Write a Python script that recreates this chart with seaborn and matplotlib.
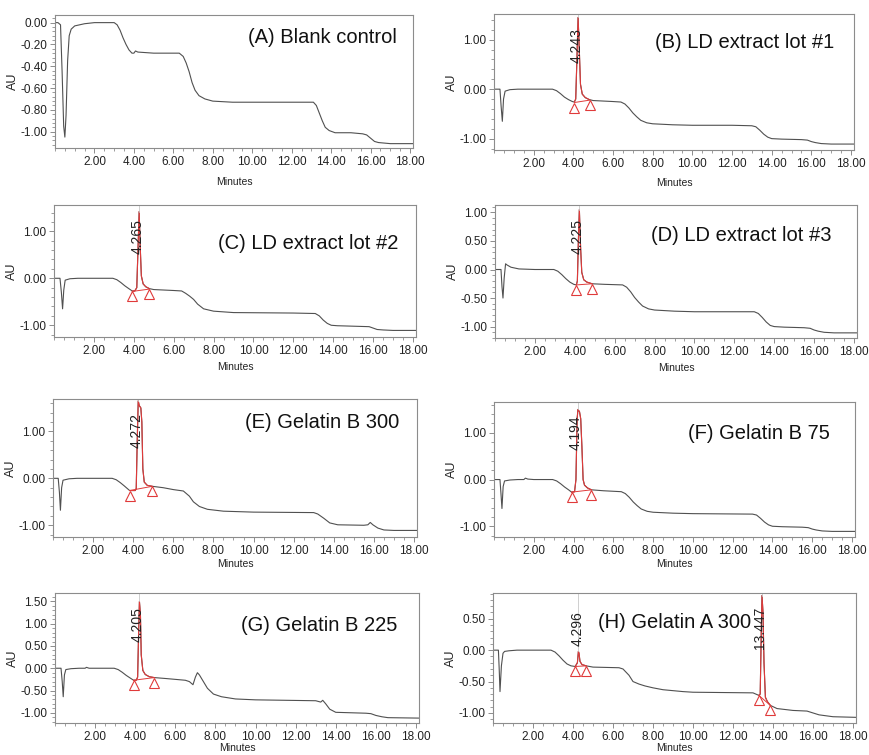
import numpy as np
import pandas as pd
import matplotlib
matplotlib.use("Agg")
import matplotlib.pyplot as plt
import matplotlib.transforms as mtransforms
from matplotlib.ticker import FormatStrFormatter, AutoMinorLocator
import seaborn as sns

sns.set_theme(style="white")
plt.rcParams['font.family'] = ['Liberation Sans', 'DejaVu Sans']
plt.rcParams['axes.unicode_minus'] = False

# ---------------- data (minutes, AU) ----------------
A_t = [0.0, 0.15, 0.28, 0.36, 0.44, 0.50, 0.56, 0.64, 0.72, 0.82, 1.0, 1.5, 2.0, 3.0, 3.15, 3.3, 3.45, 3.6, 3.75, 3.9, 4.0, 4.08, 4.2, 5.0, 6.3, 6.5, 6.65, 6.8, 6.95, 7.1, 7.3, 7.6, 8.0, 9.0, 11.0, 13.1, 13.25, 13.4, 13.55, 13.7, 13.9, 14.2, 15.0, 15.6, 15.8, 16.0, 16.2, 16.4, 17.0, 18.15]
A_y = [0.0, 0.0, -0.02, -0.45, -0.95, -1.05, -0.85, -0.35, -0.12, -0.06, -0.03, -0.01, 0.0, 0.0, -0.02, -0.07, -0.14, -0.2, -0.25, -0.28, -0.28, -0.26, -0.27, -0.28, -0.28, -0.31, -0.37, -0.45, -0.55, -0.62, -0.67, -0.7, -0.72, -0.73, -0.73, -0.73, -0.76, -0.83, -0.9, -0.96, -0.99, -1.01, -1.01, -1.02, -1.03, -1.06, -1.09, -1.10, -1.11, -1.11]

B_t = [0.0, 0.3, 0.36, 0.42, 0.48, 0.56, 0.8, 1.2, 2.0, 2.95, 3.15, 3.35, 3.55, 3.75, 3.95, 4.05, 4.12, 4.18, 4.24, 4.30, 4.36, 4.45, 4.6, 4.8, 5.0, 5.5, 6.0, 6.4, 6.6, 6.8, 7.0, 7.2, 7.4, 7.7, 8.0, 9.0, 10.0, 12.0, 13.0, 13.2, 13.4, 13.6, 13.8, 14.0, 14.5, 15.5, 15.8, 16.0, 16.2, 16.5, 17.0, 18.15]
B_y = [0.0, 0.0, -0.35, -0.65, -0.2, -0.04, -0.01, 0.0, 0.0, 0.0, -0.03, -0.09, -0.16, -0.21, -0.25, -0.26, -0.2, 0.6, 1.45, 0.8, 0.1, -0.1, -0.17, -0.21, -0.23, -0.24, -0.25, -0.26, -0.3, -0.38, -0.48, -0.56, -0.63, -0.68, -0.7, -0.72, -0.73, -0.73, -0.74, -0.76, -0.83, -0.91, -0.97, -1.0, -1.01, -1.02, -1.03, -1.06, -1.08, -1.1, -1.11, -1.11]

C_t = [0.0, 0.3, 0.37, 0.43, 0.49, 0.56, 0.8, 1.2, 2.0, 2.95, 3.15, 3.35, 3.55, 3.75, 3.92, 4.05, 4.15, 4.21, 4.27, 4.32, 4.38, 4.47, 4.6, 4.78, 5.0, 6.0, 6.4, 6.6, 6.8, 7.0, 7.2, 7.5, 8.0, 9.0, 12.0, 13.1, 13.3, 13.5, 13.7, 13.9, 14.2, 15.0, 15.8, 16.0, 16.2, 16.5, 17.0, 18.15]
C_y = [0.0, 0.0, -0.3, -0.65, -0.25, -0.04, -0.01, 0.0, 0.0, 0.0, -0.03, -0.09, -0.16, -0.22, -0.27, -0.27, -0.2, 0.6, 1.42, 0.7, 0.05, -0.12, -0.18, -0.22, -0.24, -0.26, -0.27, -0.32, -0.38, -0.45, -0.55, -0.65, -0.7, -0.73, -0.74, -0.75, -0.8, -0.89, -0.96, -1.0, -1.01, -1.02, -1.03, -1.06, -1.09, -1.1, -1.11, -1.11]

D_t = [0.0, 0.3, 0.35, 0.40, 0.46, 0.53, 0.6, 0.8, 1.2, 2.0, 2.95, 3.15, 3.35, 3.55, 3.75, 3.95, 4.08, 4.13, 4.18, 4.23, 4.29, 4.35, 4.45, 4.6, 4.87, 5.5, 6.4, 6.6, 6.8, 7.0, 7.2, 7.4, 7.7, 8.0, 9.0, 10.0, 13.0, 13.2, 13.4, 13.6, 13.8, 14.0, 14.5, 15.5, 15.8, 16.0, 16.2, 16.5, 17.0, 18.15]
D_y = [0.0, 0.0, -0.3, -0.5, -0.15, 0.1, 0.08, 0.04, 0.01, 0.0, 0.0, -0.03, -0.09, -0.16, -0.22, -0.26, -0.27, -0.2, 0.5, 1.05, 0.4, -0.05, -0.18, -0.22, -0.25, -0.26, -0.27, -0.31, -0.39, -0.49, -0.57, -0.64, -0.69, -0.71, -0.73, -0.74, -0.74, -0.77, -0.84, -0.92, -0.98, -1.0, -1.01, -1.02, -1.03, -1.06, -1.08, -1.1, -1.11, -1.11]

E_t = [0.0, 0.26, 0.32, 0.37, 0.43, 0.5, 0.8, 1.2, 2.0, 2.95, 3.15, 3.35, 3.55, 3.82, 4.1, 4.15, 4.2, 4.25, 4.3, 4.38, 4.43, 4.48, 4.55, 4.7, 4.95, 5.5, 6.0, 6.5, 6.8, 7.0, 7.3, 7.7, 8.5, 10.0, 13.0, 13.2, 13.5, 13.8, 14.2, 15.5, 15.7, 15.82, 15.95, 16.2, 16.5, 17.0, 18.15]
E_y = [0.0, 0.0, -0.3, -0.68, -0.2, -0.04, -0.01, 0.0, 0.0, 0.0, -0.03, -0.09, -0.16, -0.26, -0.26, -0.22, 0.8, 1.65, 1.55, 1.5, 1.2, 0.2, -0.08, -0.15, -0.17, -0.2, -0.24, -0.27, -0.38, -0.5, -0.6, -0.66, -0.7, -0.72, -0.73, -0.76, -0.85, -0.95, -0.99, -1.0, -0.99, -0.94, -0.99, -1.06, -1.1, -1.11, -1.11]

F_t = [0.0, 0.3, 0.35, 0.40, 0.46, 0.53, 0.8, 1.2, 1.5, 1.58, 1.7, 2.0, 2.95, 3.15, 3.35, 3.55, 3.75, 3.9, 4.05, 4.12, 4.18, 4.22, 4.3, 4.36, 4.42, 4.48, 4.55, 4.7, 4.9, 5.5, 6.4, 6.6, 6.8, 7.0, 7.2, 7.4, 7.7, 8.0, 9.0, 10.0, 13.0, 13.2, 13.4, 13.6, 13.8, 14.0, 14.5, 15.5, 15.8, 16.0, 16.2, 16.5, 17.0, 18.15]
F_y = [0.0, 0.0, -0.3, -0.62, -0.15, -0.03, -0.01, 0.0, 0.0, 0.03, 0.01, 0.0, 0.0, -0.03, -0.09, -0.16, -0.22, -0.27, -0.26, 0.0, 1.3, 1.5, 1.45, 1.3, 0.7, 0.0, -0.12, -0.18, -0.22, -0.24, -0.26, -0.3, -0.38, -0.48, -0.56, -0.63, -0.68, -0.7, -0.72, -0.73, -0.74, -0.76, -0.83, -0.91, -0.97, -1.0, -1.01, -1.02, -1.03, -1.06, -1.08, -1.1, -1.11, -1.11]

G_t = [0.0, 0.3, 0.36, 0.41, 0.47, 0.54, 0.8, 1.2, 1.5, 1.57, 1.7, 2.0, 2.95, 3.15, 3.35, 3.55, 3.75, 3.92, 4.05, 4.12, 4.17, 4.21, 4.26, 4.3, 4.38, 4.5, 4.7, 4.95, 5.5, 6.0, 6.5, 6.7, 6.88, 7.0, 7.1, 7.2, 7.4, 7.6, 7.9, 8.3, 9.0, 10.0, 13.0, 13.25, 13.35, 13.5, 13.7, 14.0, 15.5, 15.75, 16.0, 16.3, 16.6, 18.15]
G_y = [0.0, 0.0, -0.3, -0.64, -0.15, -0.03, -0.01, 0.0, 0.0, 0.02, 0.0, 0.0, 0.0, -0.03, -0.09, -0.16, -0.22, -0.27, -0.27, -0.2, 0.8, 1.5, 1.2, 0.3, -0.05, -0.14, -0.19, -0.21, -0.23, -0.25, -0.27, -0.3, -0.37, -0.2, -0.1, -0.15, -0.3, -0.45, -0.58, -0.64, -0.69, -0.71, -0.73, -0.76, -0.72, -0.8, -0.92, -0.99, -1.01, -1.02, -1.06, -1.09, -1.11, -1.12]

H_t = [0.0, 0.27, 0.31, 0.35, 0.42, 0.5, 0.58, 0.8, 1.2, 2.0, 2.9, 3.1, 3.3, 3.5, 3.7, 3.9, 4.11, 4.22, 4.27, 4.3, 4.35, 4.45, 4.66, 5.0, 6.3, 6.5, 6.8, 7.0, 7.3, 7.6, 8.0, 8.5, 9.5, 10.0, 13.0, 13.29, 13.36, 13.42, 13.45, 13.5, 13.55, 13.62, 13.72, 13.87, 14.2, 15.0, 15.7, 15.9, 16.3, 17.0, 18.15]
H_y = [0.0, 0.0, -0.3, -0.66, -0.25, -0.05, -0.02, -0.01, 0.0, 0.0, 0.0, -0.03, -0.09, -0.16, -0.22, -0.25, -0.26, -0.2, -0.02, -0.05, -0.18, -0.23, -0.25, -0.27, -0.28, -0.3, -0.4, -0.5, -0.54, -0.57, -0.6, -0.63, -0.66, -0.67, -0.68, -0.72, -0.7, 0.4, 0.87, 0.6, -0.2, -0.75, -0.82, -0.88, -0.93, -0.96, -0.97, -0.99, -1.03, -1.06, -1.07]

# peaks: retention time label, integration start / end (min) and baseline AU at both ends
B_rt = ["4.243"]; B_start = [4.05]; B_end = [4.85]; B_base0 = [-0.27]; B_base1 = [-0.22]
C_rt = ["4.265"]; C_start = [3.92]; C_end = [4.78]; C_base0 = [-0.28]; C_base1 = [-0.23]
D_rt = ["4.225"]; D_start = [4.08]; D_end = [4.87]; D_base0 = [-0.27]; D_base1 = [-0.25]
E_rt = ["4.272"]; E_start = [3.82]; E_end = [4.95]; E_base0 = [-0.26]; E_base1 = [-0.17]
F_rt = ["4.194"]; F_start = [3.90]; F_end = [4.90]; F_base0 = [-0.27]; F_base1 = [-0.22]
G_rt = ["4.205"]; G_start = [3.92]; G_end = [4.95]; G_base0 = [-0.27]; G_base1 = [-0.21]
H_rt = ["4.296", "13.447"]; H_start = [4.11, 13.29]; H_end = [4.66, 13.87]; H_base0 = [-0.26, -0.72]; H_base1 = [-0.25, -0.88]

titles = ["(A) Blank control", "(B) LD extract lot #1", "(C) LD extract lot #2", "(D) LD extract lot #3",
          "(E) Gelatin B 300", "(F) Gelatin B 75", "(G) Gelatin B 225", "(H) Gelatin A 300"]

x_ticks = [2, 4, 6, 8, 10, 12, 14, 16, 18]
A_yticks = [0.0, -0.2, -0.4, -0.6, -0.8, -1.0]
B_yticks = [1.0, 0.0, -1.0]
D_yticks = [1.0, 0.5, 0.0, -0.5, -1.0]
G_yticks = [1.5, 1.0, 0.5, 0.0, -0.5, -1.0]
H_yticks = [0.5, 0.0, -0.5, -1.0]

# ---------------- layout / style ----------------
W, H = 869, 755
fig = plt.figure(figsize=(W / 100, H / 100), dpi=100)

def px_axes(l, t, r, b):
    return [l / W, 1 - b / H, (r - l) / W, (b - t) / H]

TRACE = "#505050"
RED = "#e03a3a"
SPINE = "#8c8c8c"

panels = [
    dict(t=A_t, y=A_y, box=(55, 15, 413, 148), ylim=(-1.15, 0.07), yt=A_yticks, title=titles[0],
         tpos=(0.955, 0.83), tha="right", peaks=None, xlp=7),
    dict(t=B_t, y=B_y, box=(494, 14, 854, 150), ylim=(-1.23, 1.52), yt=B_yticks, title=titles[1],
         tpos=(0.945, 0.79), tha="right", peaks=(B_rt, B_start, B_end, B_base0, B_base1), xlp=6),
    dict(t=C_t, y=C_y, box=(54, 205, 416, 337), ylim=(-1.25, 1.56), yt=B_yticks, title=titles[2],
         tpos=(0.95, 0.71), tha="right", peaks=(C_rt, C_start, C_end, C_base0, C_base1), xlp=4),
    dict(t=D_t, y=D_y, box=(495, 205, 857, 338), ylim=(-1.2, 1.13), yt=D_yticks, title=titles[3],
         tpos=(0.93, 0.77), tha="right", peaks=(D_rt, D_start, D_end, D_base0, D_base1), xlp=4),
    dict(t=E_t, y=E_y, box=(53, 399, 417, 537), ylim=(-1.25, 1.69), yt=B_yticks, title=titles[4],
         tpos=(0.95, 0.83), tha="right", peaks=(E_rt, E_start, E_end, E_base0, E_base1), xlp=1.5),
    dict(t=F_t, y=F_y, box=(494, 402, 855, 537), ylim=(-1.23, 1.66), yt=B_yticks, title=titles[5],
         tpos=(0.93, 0.77), tha="right", peaks=(F_rt, F_start, F_end, F_base0, F_base1), xlp=1.5),
    dict(t=G_t, y=G_y, box=(55, 593, 419, 723), ylim=(-1.23, 1.69), yt=G_yticks, title=titles[6],
         tpos=(0.94, 0.75), tha="right", peaks=(G_rt, G_start, G_end, G_base0, G_base1), xlp=0),
    dict(t=H_t, y=H_y, box=(493, 593, 856, 723), ylim=(-1.16, 0.91), yt=H_yticks, title=titles[7],
         tpos=(0.29, 0.77), tha="left", peaks=(H_rt, H_start, H_end, H_base0, H_base1), xlp=0),
]

for p in panels:
    ax = fig.add_axes(px_axes(*p["box"]))
    df = pd.DataFrame({"Minutes": p["t"], "AU": p["y"]})
    sns.lineplot(data=df, x="Minutes", y="AU", ax=ax, color=TRACE, lw=0.8,
                 sort=False, estimator=None)
    ax.set_xlim(0, 18.15)
    ax.set_ylim(*p["ylim"])

    if p["peaks"] is not None:
        rts, st, en, b0, b1 = p["peaks"]
        tri_tf = mtransforms.offset_copy(ax.transData, fig=fig, x=0, y=-3.6, units="points")
        for rt, s, e, y0, y1 in zip(rts, st, en, b0, b1):
            seg = df[(df["Minutes"] >= s) & (df["Minutes"] <= e)]
            sns.lineplot(data=seg, x="Minutes", y="AU", ax=ax, color=RED, lw=0.8,
                         sort=False, estimator=None)
            ax.plot([s, e], [y0, y1], color=RED, lw=0.7)
            ax.plot([s, e], [y0, y1], ls="none", marker="^", ms=6.5, mfc="none",
                    mec=RED, mew=0.8, transform=tri_tf)
            apex_i = seg["AU"].idxmax()
            apex_t, apex_y = seg.loc[apex_i, "Minutes"], seg.loc[apex_i, "AU"]
            ytop = p["ylim"][1]
            ax.plot([apex_t, apex_t], [apex_y, ytop], color="#c8c8c8", lw=0.6)
            frac = (apex_y - p["ylim"][0]) / (ytop - p["ylim"][0])
            if frac > 0.6:
                tf = mtransforms.offset_copy(
                    mtransforms.blended_transform_factory(ax.transData, ax.transAxes),
                    fig=fig, x=0, y=-10, units="points")
                ax.text(float(rt) - 0.08, 1.0, rt, rotation=90, ha="center", va="top",
                        fontsize=10, color="#222222", transform=tf)
            else:
                tf = mtransforms.offset_copy(ax.transData, fig=fig, x=0, y=4, units="points")
                ax.text(float(rt) - 0.05, apex_y, rt, rotation=90, ha="center", va="bottom",
                        fontsize=10, color="#222222", transform=tf)

    ax.text(p["tpos"][0], p["tpos"][1], p["title"], transform=ax.transAxes,
            ha=p["tha"], va="center", fontsize=14.5, color="#111111")

    ax.set_xticks(x_ticks)
    ax.xaxis.set_major_formatter(FormatStrFormatter("%.2f"))
    ax.xaxis.set_minor_locator(AutoMinorLocator(4))
    ax.set_yticks(p["yt"])
    ax.yaxis.set_major_formatter(FormatStrFormatter("%.2f"))
    ax.yaxis.set_minor_locator(AutoMinorLocator(5))
    ax.tick_params(which="major", direction="out", length=3.5, width=0.7, color=SPINE,
                   labelsize=8.5, pad=2, labelcolor="#222222", left=True, bottom=True)
    ax.tick_params(which="minor", direction="out", length=2, width=0.6, color=SPINE,
                   left=True, bottom=True)
    for sp in ax.spines.values():
        sp.set_color(SPINE)
        sp.set_linewidth(0.8)
    ax.set_xlabel("Minutes", fontsize=7.5, labelpad=p["xlp"], color="#222222")
    ax.set_ylabel("AU", fontsize=9, labelpad=1, color="#222222")
    ax.grid(False)

fig.savefig("out.png", dpi=100, facecolor="white")
